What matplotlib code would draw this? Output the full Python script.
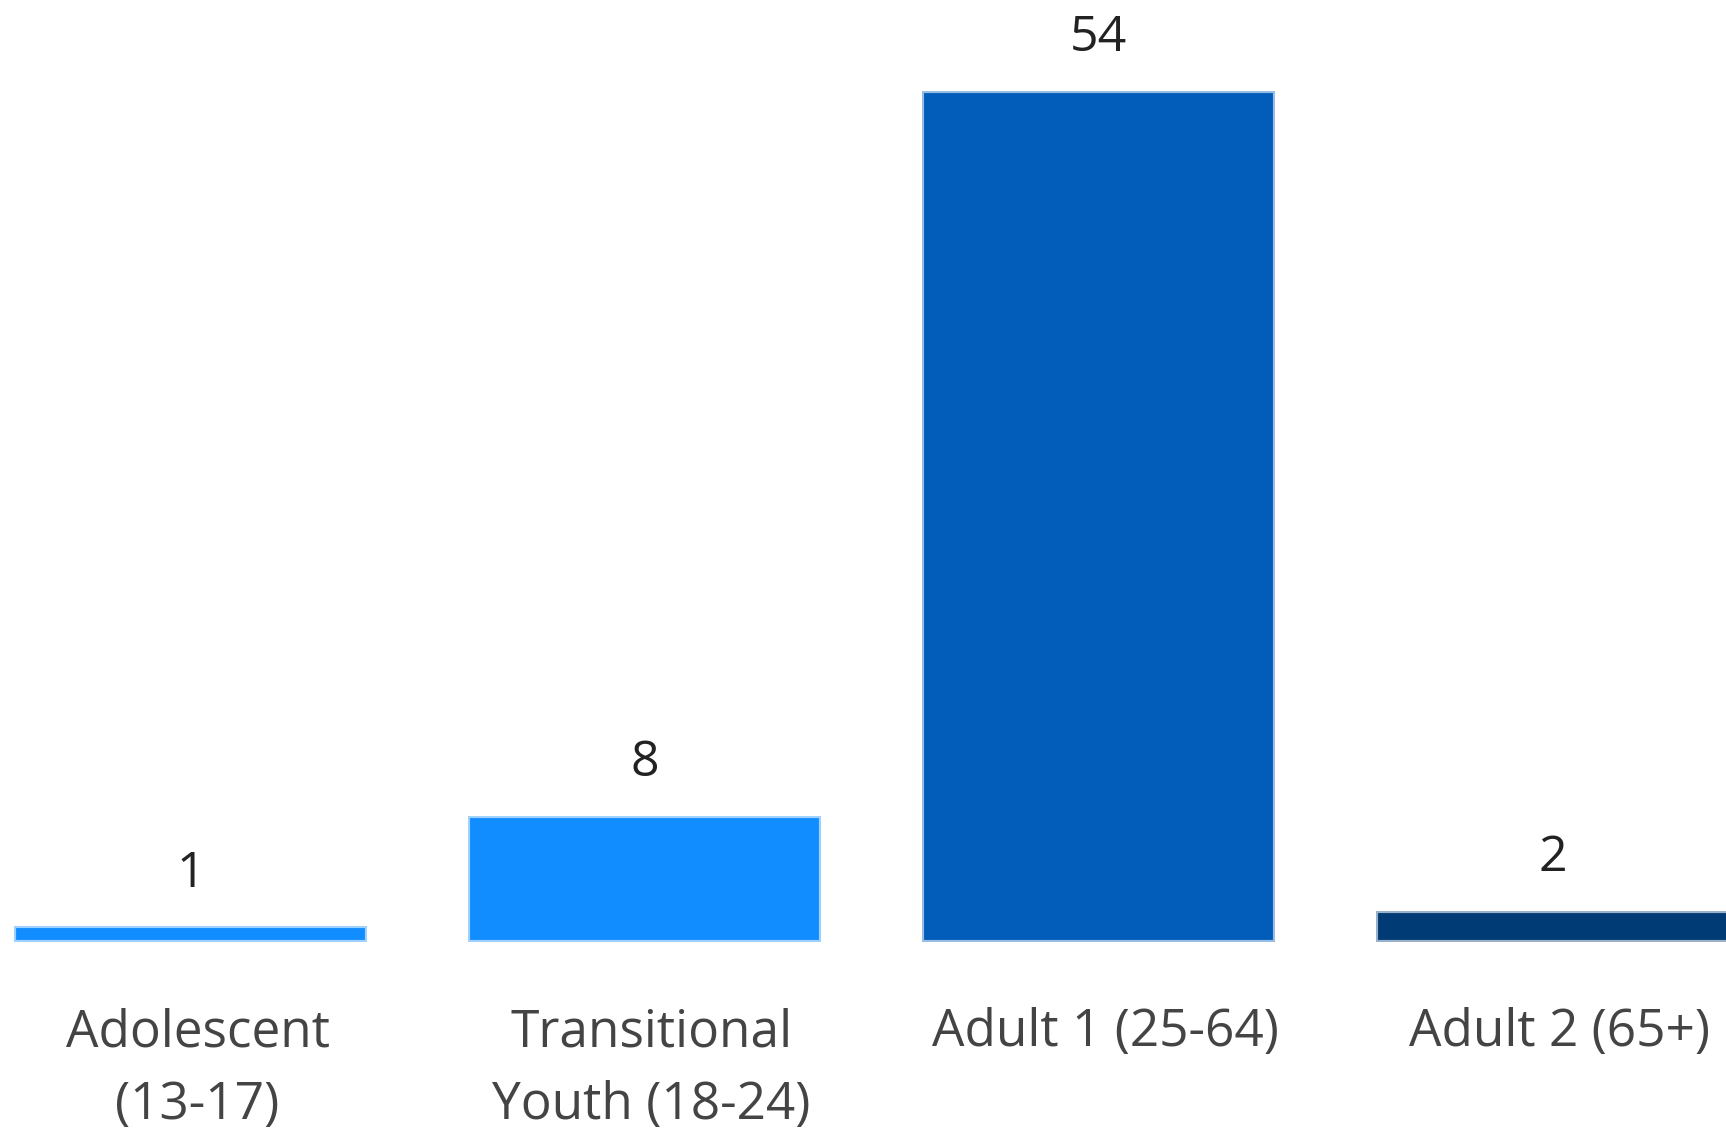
import matplotlib
matplotlib.use("Agg")
import matplotlib.pyplot as plt
from matplotlib.transforms import ScaledTranslation

categories = ["Adolescent\n(13-17)", "Transitional\nYouth (18-24)", "Adult 1 (25-64)", "Adult 2 (65+)"]
counts = [1, 8, 54, 2]
bar_colors = ["#118DFF", "#118DFF", "#015CBA", "#003B76"]

plt.rcParams["font.family"] = ["Open Sans", "DejaVu Sans"]

fig = plt.figure(figsize=(17.26, 11.32), dpi=100)
# axes spans whole width, bottom at the bar baseline
ax = fig.add_axes([0, 0.1678, 1, 0.8322])

x = range(len(counts))
bars = ax.bar(x, counts, width=0.778, color=bar_colors,
              edgecolor=(1, 1, 1, 0.6), linewidth=3)

for b, v in zip(bars, counts):
    ax.annotate(str(v), (b.get_x() + b.get_width() / 2, v),
                xytext=(0, 20), textcoords="offset points",
                ha="center", va="bottom", fontsize=36, color="#222222")

ax.set_xlim(-0.4196, 3.382)
ax.set_ylim(0, 59.77)
ax.set_xticks(list(x))
ax.set_xticklabels(categories, fontsize=37, color="#444444", linespacing=1.55)
ax.tick_params(axis="x", length=0, pad=47)
# labels sit a little right of the bar centres in the original
shift = ScaledTranslation(0.07, 0, fig.dpi_scale_trans)
for lbl in ax.get_xticklabels():
    lbl.set_transform(lbl.get_transform() + shift)
ax.set_yticks([])
for s in ax.spines.values():
    s.set_visible(False)

fig.savefig("out.png", dpi=100)
